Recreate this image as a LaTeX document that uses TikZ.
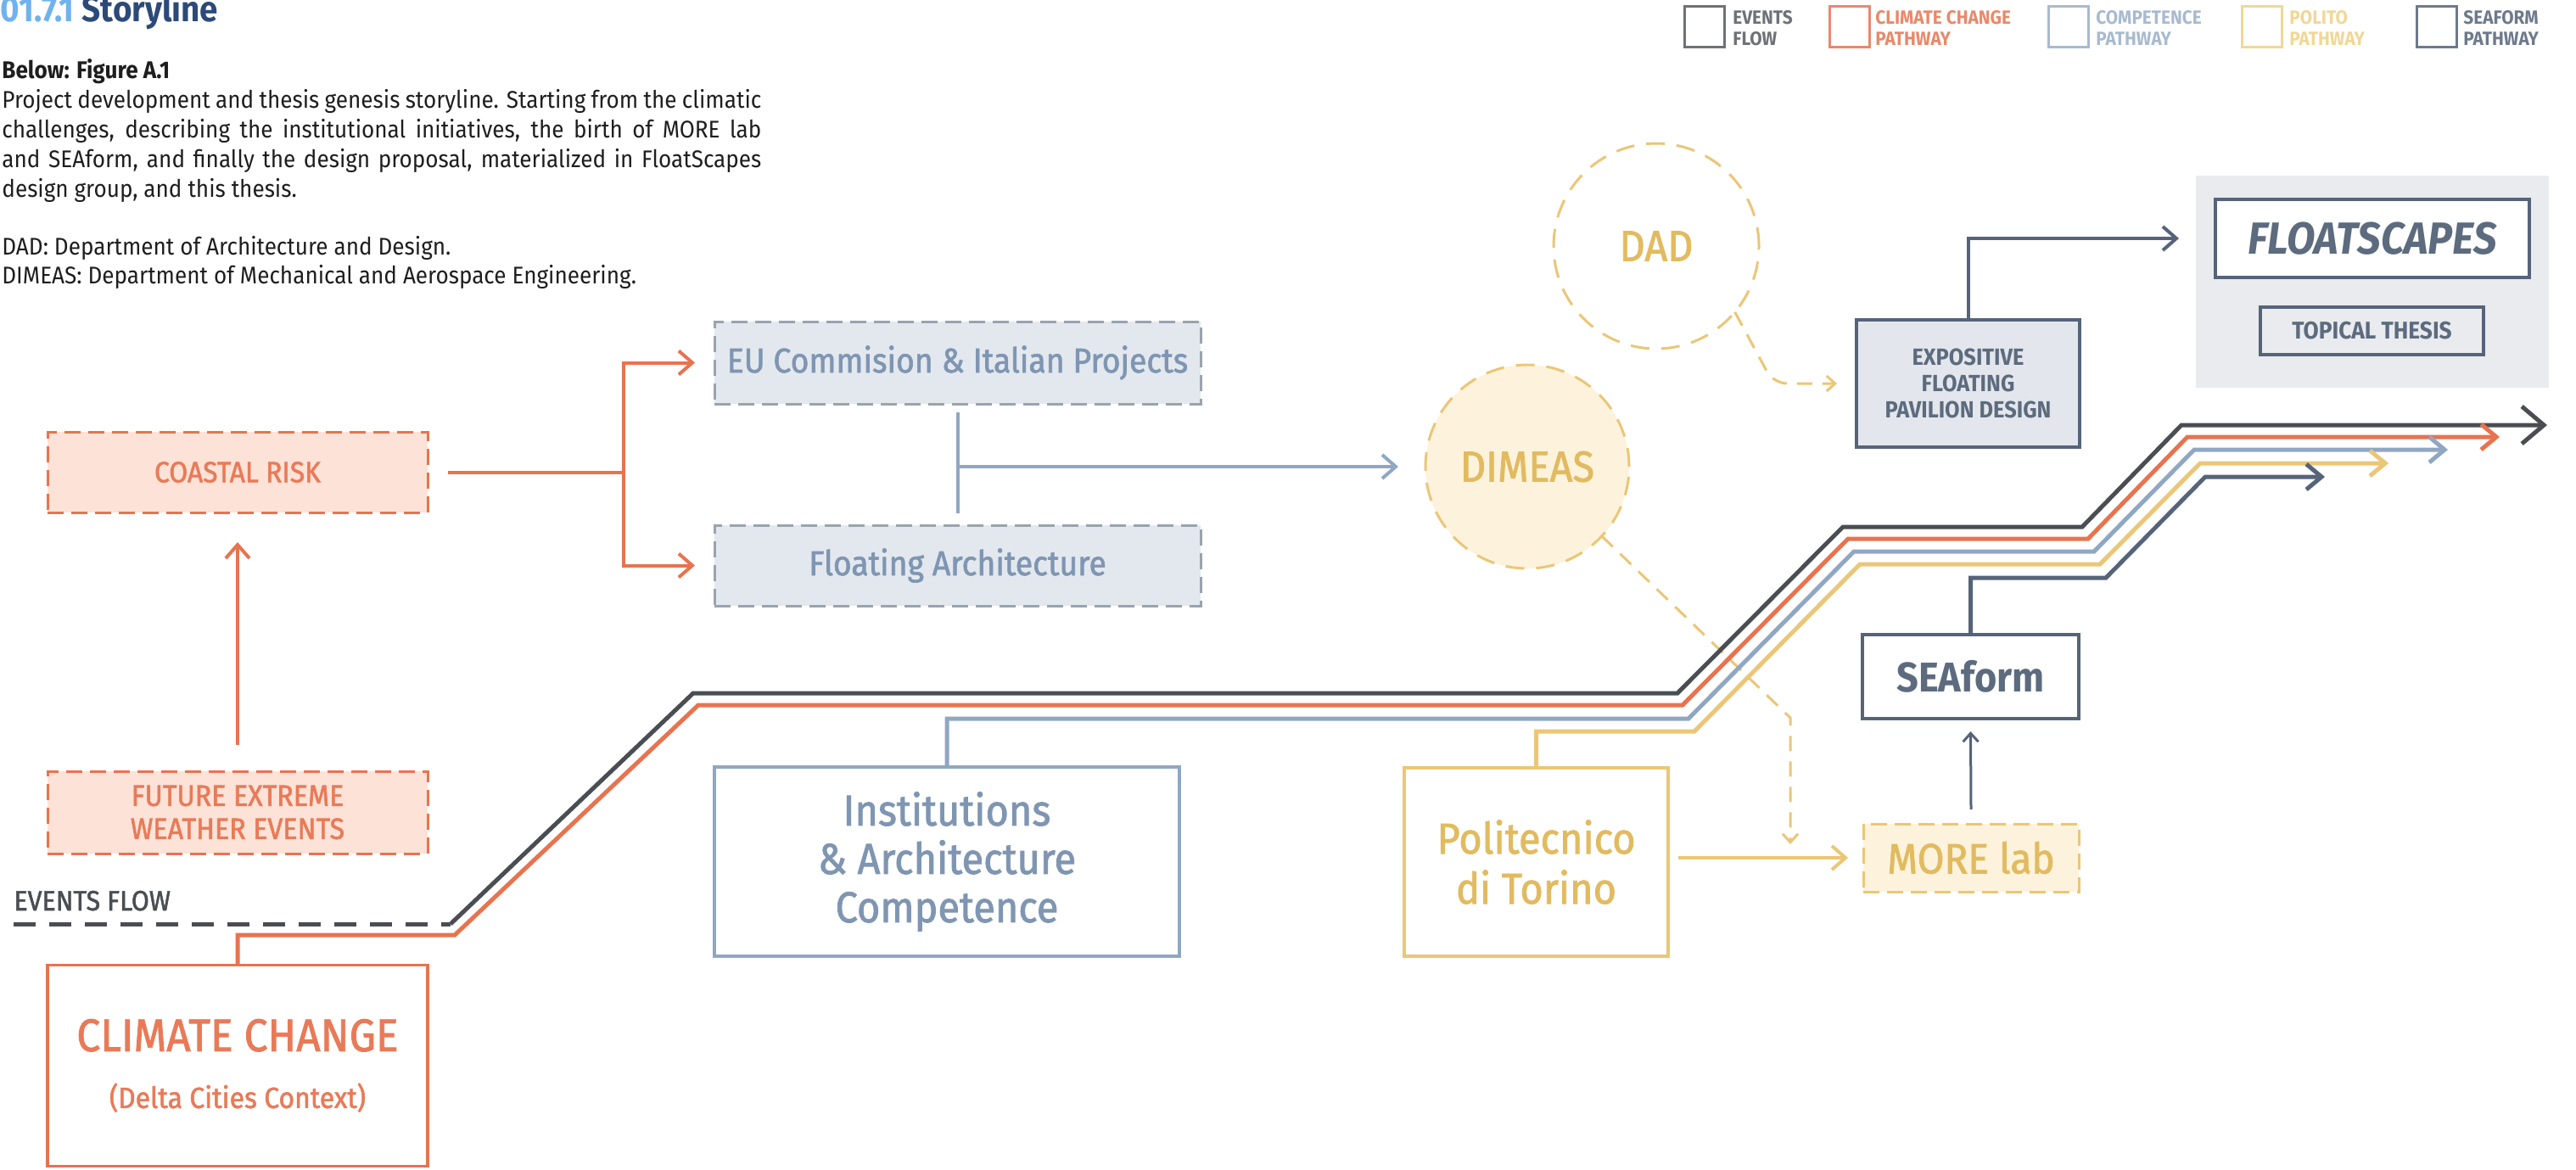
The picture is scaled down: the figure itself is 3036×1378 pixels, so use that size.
\documentclass[tikz,border=0pt]{standalone}
\usepackage{fontspec}
\setmainfont{Fira Sans}[FakeStretch=0.92]
\newfontfamily\medf{Fira Sans}[FakeStretch=0.92,FakeBold=1.6]
\usetikzlibrary{arrows.meta}
\newcommand\fsz[2]{\fontsize{#1}{#2}\selectfont}
\definecolor{cOr}{HTML}{E8734F}
\definecolor{cOrT}{HTML}{E97A58}
\definecolor{cOrL}{HTML}{FCE2D7}
\definecolor{cEv}{HTML}{4A4D52}
\definecolor{cBl}{HTML}{90A7C3}
\definecolor{cBlT}{HTML}{7F96B2}
\definecolor{cBlF}{HTML}{E3E8EF}
\definecolor{cDg}{HTML}{9AA3AE}
\definecolor{cYe}{HTML}{EBC676}
\definecolor{cYeT}{HTML}{E2BB60}
\definecolor{cYeF}{HTML}{FDF3DD}
\definecolor{cSl}{HTML}{56647A}
\definecolor{cSlT}{HTML}{5D6B7E}
\definecolor{cSlF}{HTML}{E3E7ED}
\definecolor{cBg}{HTML}{E9EBEE}
\definecolor{cTi}{HTML}{6FB3EE}
\definecolor{cTi2}{HTML}{2C4A79}
\definecolor{cTx}{HTML}{1E1E1E}
\definecolor{lgEv}{HTML}{6E7176}
\definecolor{lgOr}{HTML}{E8896A}
\definecolor{lgBl}{HTML}{A8BACF}
\definecolor{lgYe}{HTML}{F1D796}
\definecolor{lgSl}{HTML}{6E7A8B}
\tikzset{
  bx/.style={rectangle,inner sep=0pt,outer sep=0pt,align=center},
  dbox/.style={bx,draw,line width=1.5pt,dash pattern=on 9.5pt off 4.5pt},
  sbox/.style={bx,draw,line width=1.8pt},
  dcirc/.style={circle,inner sep=0pt,outer sep=0pt,draw=cYe,line width=1.5pt,dash pattern=on 11pt off 7pt,text=cYeT,font=\medf\fsz{25.5pt}{28pt}},
  plw/.style={line width=2.5pt},
  clw/.style={line width=2pt},
  chev/.style={-{Straight Barb[length=8pt,width=14pt]}},
  pchev/.style={-{Straight Barb[length=9pt,width=15pt]}},
  schev/.style={-{Straight Barb[length=5pt,width=9pt]}},
  ydash/.style={draw=cYe,line width=1.5pt,dash pattern=on 9pt off 6pt},
  lgbox/.style={rectangle,draw,line width=1.5pt,minimum width=23.5pt,minimum height=24pt,inner sep=0pt},
  lgtxt/.style={anchor=west,align=left,inner sep=0pt,font=\bfseries\fsz{11.3pt}{12.5pt}},
  note/.style={anchor=base west,inner sep=0pt,font=\fsz{14.2pt}{17.5pt},text=cTx}
}
\begin{document}
\begin{tikzpicture}[x=0.5pt,y=-0.5pt]
\useasboundingbox (0,0) rectangle (3036,1378);

% ---------- header ----------
\node[anchor=base west,inner sep=0pt,font=\bfseries\fsz{21pt}{24pt}] (title) at (0,25) {\textcolor{cTi}{01.7.1} \textcolor{cTi2}{Storyline}};
\node[note,font=\bfseries\fsz{14.2pt}{17.5pt}] (figlab) at (2,92) {Below: Figure A.1};
\node[anchor=north west,inner sep=0pt,text width=447.5pt,align=justify,font=\fsz{14.2pt}{17.5pt},text=cTx] (para) at (2,105) {Project development and thesis genesis storyline. Starting from the climatic\linebreak challenges, describing the institutional initiatives, the birth of MORE lab\linebreak and SEAform, and finally the design proposal, materialized in FloatScapes\linebreak design group, and this thesis.};
\node[note] (dadnote) at (2,300) {DAD: Department of Architecture and Design.};
\node[note] (dimnote) at (2,334) {DIMEAS: Department of Mechanical and Aerospace Engineering.};

% ---------- legend ----------
\node[lgbox,draw=lgEv] (lg1) at (2008.5,31) {};
\node[lgtxt,text=lgEv] (lt1) at (2042,33) {EVENTS\\FLOW};
\node[lgbox,draw=lgOr] (lg2) at (2180,31) {};
\node[lgtxt,text=lgOr] (lt2) at (2210,33) {CLIMATE CHANGE\\PATHWAY};
\node[lgbox,draw=lgBl] (lg3) at (2437.5,31) {};
\node[lgtxt,text=lgBl] (lt3) at (2470,33) {COMPETENCE\\PATHWAY};
\node[lgbox,draw=lgYe] (lg4) at (2666,31) {};
\node[lgtxt,text=lgYe] (lt4) at (2698,33) {POLITO\\PATHWAY};
\node[lgbox,draw=lgSl] (lg5) at (2871.5,31) {};
\node[lgtxt,text=lgSl] (lt5) at (2903,33) {SEAFORM\\PATHWAY};

% ---------- left column ----------
\node[dbox,draw=cOr,fill=cOrL,text=cOrT,minimum width=224pt,minimum height=47.5pt,font=\medf\fsz{17.3pt}{20pt}] (cr) at (280,556.5) {COASTAL RISK};
\node[dbox,draw=cOr,fill=cOrL,text=cOrT,minimum width=224pt,minimum height=48.5pt,font=\medf\fsz{17.5pt}{19.5pt}] (fe) at (280,957.5) {FUTURE EXTREME\\WEATHER EVENTS};
\node[sbox,draw=cOr,fill=white,text=cOrT,minimum width=224pt,minimum height=118.5pt,font=\medf\fsz{27pt}{33.5pt}] (cc) at (280,1256) {CLIMATE CHANGE\\{\fsz{17.3pt}{33.5pt}(Delta Cities Context)}};
\node[anchor=base west,inner sep=0pt,font=\medf\fsz{16.5pt}{20pt},text=cEv] (evl) at (16,1073) {EVENTS FLOW};

% ---------- middle ----------
\node[dbox,draw=cDg,fill=cBlF,text=cBlT,minimum width=286.5pt,minimum height=48.5pt,font=\medf\fsz{20.3pt}{24pt}] (eu) at (1128.5,427.5) {EU Commision \& Italian Projects};
\node[dbox,draw=cDg,fill=cBlF,text=cBlT,minimum width=286.5pt,minimum height=47.5pt,font=\medf\fsz{20.3pt}{24pt}] (fa) at (1128.5,666.5) {Floating Architecture};
\node[dcirc,fill=cYeF,minimum size=120pt] (dimeas) at (1800,550) {DIMEAS};
\node[dcirc,fill=white,minimum size=121pt] (dad) at (1952,290) {DAD};
\node[sbox,draw=cBl,fill=white,text=cBlT,minimum width=274pt,minimum height=111.5pt,font=\medf\fsz{25.5pt}{28.5pt}] (inst) at (1116,1015.5) {Institutions\\\& Architecture\\Competence};
\node[sbox,draw=cYe,fill=white,text=cYeT,minimum width=155.5pt,minimum height=111pt,font=\medf\fsz{25.5pt}{29.5pt}] (pol) at (1810.5,1016) {Politecnico\\di Torino};

% ---------- right ----------
\node[dbox,draw=cYe,fill=cYeF,text=cYeT,minimum width=127pt,minimum height=40pt,font=\medf\fsz{25pt}{28pt}] (more) at (2323,1011) {MORE lab};
\node[sbox,draw=cSl,fill=white,text=cSlT,minimum width=127.5pt,minimum height=49.5pt,font=\bfseries\fsz{24.5pt}{28pt}] (sea) at (2322.5,797.5) {SEAform};
\node[sbox,draw=cSl,fill=cSlF,text=cSlT,minimum width=131.5pt,minimum height=75pt,font=\bfseries\fsz{13.8pt}{15.5pt}] (expo) at (2319.5,452) {EXPOSITIVE\\FLOATING\\PAVILION DESIGN};
\node[bx,fill=cBg,minimum width=208pt,minimum height=125pt] (fsbg) at (2796,332) {};
\node[sbox,draw=cSl,fill=white,text=cSlT,minimum width=185pt,minimum height=46pt,font=\bfseries\itshape\fsz{26.5pt}{28pt}] (fs) at (2796,281) {FLOATSCAPES};
\node[sbox,draw=cSl,fill=cBg,text=cSlT,minimum width=131.5pt,minimum height=28pt,font=\bfseries\fsz{14.3pt}{16pt}] (tt) at (2795.5,390) {TOPICAL THESIS};

% ---------- connectors ----------
\coordinate (br) at (735,556.5);
\draw[clw,cOr,chev] ([xshift=12pt]cr.east) -- (br) |- ([xshift=-11.5pt]eu.west);
\draw[clw,cOr,chev] (br) |- ([xshift=-11.5pt]fa.west);
\draw[clw,cOr,chev] ([yshift=15.5pt]fe.north) -- ([yshift=-17.5pt]cr.south);

\draw[clw,cBl] ([yshift=-5pt]eu.south) -- ([yshift=7pt]fa.north);
\coordinate (cj) at (eu.south |- dimeas.west);
\draw[clw,cBl,chev] (cj) -- ([xshift=-16pt]dimeas.west);

\draw[ydash,schev,rounded corners=8pt] (dad.-40) -- (2090,452) -- ([xshift=-11.5pt]expo.west);
\coordinate (mtip) at (2110,995);
\draw[ydash,schev] (dimeas.-43) -- (2110,846) -- (mtip);

\draw[clw,cYe,chev] ([xshift=6pt]pol.east |- more.west) -- ([xshift=-9pt]more.west);
\draw[line width=1.5pt,cSl,schev] ([yshift=8.5pt]more.north) -- ([yshift=-7.5pt]sea.south);
\draw[clw,cSl,chev] (expo.north) |- ([xshift=-21.5pt]fs.west);

% ---------- pathways ----------
\coordinate (evs) at (16,1089);
\coordinate (evk) at (531,1089);
\coordinate (eve) at (3002,501);
\coordinate (cce) at (2946,515);
\coordinate (cpe) at (2885,530);
\coordinate (ppe) at (2815,546);
\coordinate (spe) at (2740,562);
\draw[plw,cEv,dash pattern=on 13pt off 8pt] (evs) -- (evk);
\draw[plw,cEv,-{Straight Barb[length=13pt,width=22pt]}] (evk) -- (817,817) -- (1977,817) -- (2172,621) -- (2454,621) -- (2571,501) -- (eve);
\draw[plw,cOr,pchev] (cc.north) -- (280,1102) -- (536,1102) -- (823,831) -- (1983,831) -- (2178,635) -- (2461,635) -- (2578,515) -- (cce);
\draw[plw,cBl,pchev] (inst.north) -- (1116,847) -- (1990,847) -- (2185,650) -- (2468,650) -- (2586,530) -- (cpe);
\draw[plw,cYe,pchev] (pol.north) -- (1810.5,862) -- (1997,862) -- (2192,665) -- (2475,665) -- (2593,546) -- (ppe);
\draw[plw,cSl,pchev] (sea.north) -- (2322.5,681) -- (2482,681) -- (2599,562) -- (spe);
\end{tikzpicture}
\end{document}
